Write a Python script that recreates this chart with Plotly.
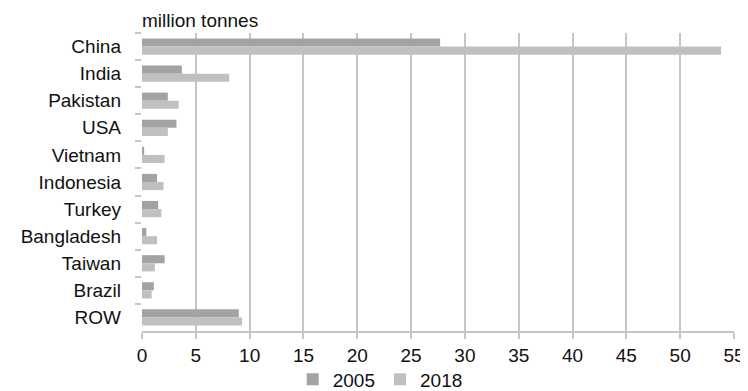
import plotly.graph_objects as go

categories = ["China", "India", "Pakistan", "USA", "Vietnam", "Indonesia",
              "Turkey", "Bangladesh", "Taiwan", "Brazil", "ROW"]
values_2005 = [27.7, 3.7, 2.4, 3.2, 0.2, 1.4, 1.5, 0.4, 2.1, 1.1, 9.0]
values_2018 = [53.8, 8.1, 3.4, 2.4, 2.1, 2.0, 1.8, 1.4, 1.2, 0.9, 9.3]
x_ticks = [0, 5, 10, 15, 20, 25, 30, 35, 40, 45, 50, 55]

FONT = "Liberation Sans, Arial, sans-serif"
TXT = "#111111"

fig = go.Figure()
fig.add_trace(go.Bar(y=categories, x=values_2005, name="2005", orientation="h",
                     marker=dict(color="#a3a3a3", line=dict(width=0))))
fig.add_trace(go.Bar(y=categories, x=values_2018, name="2018", orientation="h",
                     marker=dict(color="#c0c0c0", line=dict(width=0))))

fig.update_layout(
    width=740, height=383,
    margin=dict(l=134, r=14, t=25, b=60, autoexpand=False),
    paper_bgcolor="white", plot_bgcolor="white",
    barmode="group", bargap=0.4, bargroupgap=0,
    font=dict(family=FONT, size=19, color=TXT),
    showlegend=True,
    legend=dict(orientation="h", xref="container", yref="container",
                x=0.503, xanchor="center", y=0.03, yanchor="middle",
                font=dict(size=19), itemwidth=30, traceorder="normal",
                bgcolor="rgba(0,0,0,0)"),
    annotations=[dict(text="million tonnes", xref="paper", yref="paper",
                      x=-0.004, xanchor="left", y=1.0, yanchor="bottom",
                      showarrow=False, font=dict(size=19, color=TXT))],
)
fig.update_xaxes(range=[0, 55], tickvals=x_ticks, showgrid=True, gridcolor="#c6c6c6",
                 gridwidth=2, zeroline=False, showline=True, linecolor="#c6c6c6",
                 linewidth=2, ticks="outside", ticklen=6, tickcolor="#c6c6c6",
                 tickwidth=2, tickfont=dict(size=19), fixedrange=True, automargin=False)
fig.update_yaxes(autorange="reversed", showgrid=False, showline=False,
                 ticks="outside", tickson="boundaries", ticklen=6,
                 tickcolor="#c6c6c6", tickwidth=2, ticklabelstandoff=20,
                 tickfont=dict(size=19), fixedrange=True, automargin=False)

fig.write_html("out.html")
